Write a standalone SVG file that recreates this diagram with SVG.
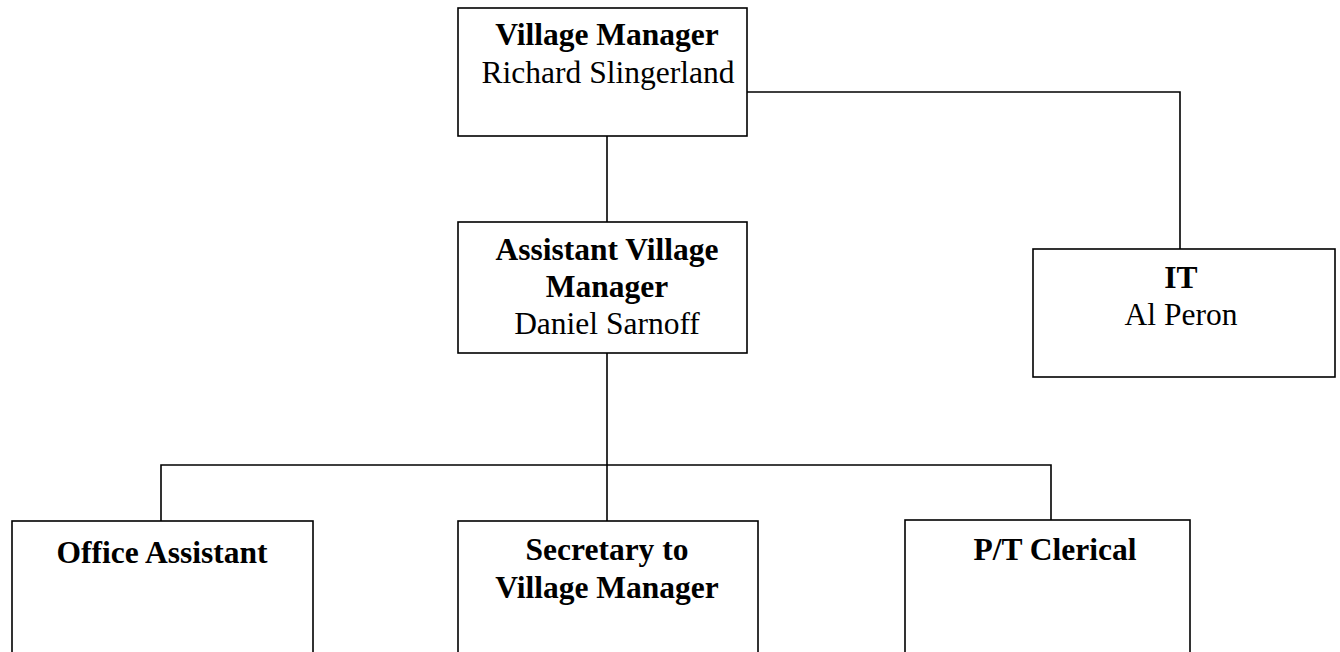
<svg xmlns="http://www.w3.org/2000/svg" width="1340" height="652" viewBox="0 0 1340 652">
<style>
.box{fill:#fff;stroke:#000;stroke-width:1.6}
.ln{fill:none;stroke:#000;stroke-width:1.6}
text{font-family:"Liberation Serif","Times New Roman",serif;font-size:31.5px;fill:#000;text-anchor:middle}
.b{font-weight:bold}
</style>
<rect width="1340" height="652" fill="#fff"/>
<g id="connectors">
<path class="ln" d="M607 136V222"/>
<path class="ln" d="M747 92H1180V249"/>
<path class="ln" d="M607 353V521"/>
<path class="ln" d="M161 521V465H1051V521"/>
</g>
<g id="village-manager">
<rect class="box" x="458" y="8" width="289" height="128"/>
<text x="607" y="45" class="b">Village Manager</text>
<text x="608" y="83">Richard Slingerland</text>
</g>
<g id="assistant-village-manager">
<rect class="box" x="458" y="222" width="289" height="131"/>
<text x="607" y="260" class="b">Assistant Village</text>
<text x="607" y="297" class="b">Manager</text>
<text x="607" y="334">Daniel Sarnoff</text>
</g>
<g id="it">
<rect class="box" x="1033" y="249" width="302" height="128"/>
<text x="1181" y="288" class="b">IT</text>
<text x="1181" y="325">Al Peron</text>
</g>
<g id="office-assistant">
<rect class="box" x="12" y="521" width="301" height="140"/>
<text x="162" y="563" class="b">Office Assistant</text>
</g>
<g id="secretary">
<rect class="box" x="458" y="521" width="300" height="140"/>
<text x="607" y="560" class="b">Secretary to</text>
<text x="607" y="598" class="b">Village Manager</text>
</g>
<g id="pt-clerical">
<rect class="box" x="905" y="520" width="285" height="140"/>
<text x="1055" y="560" class="b">P/T Clerical</text>
</g>
</svg>
